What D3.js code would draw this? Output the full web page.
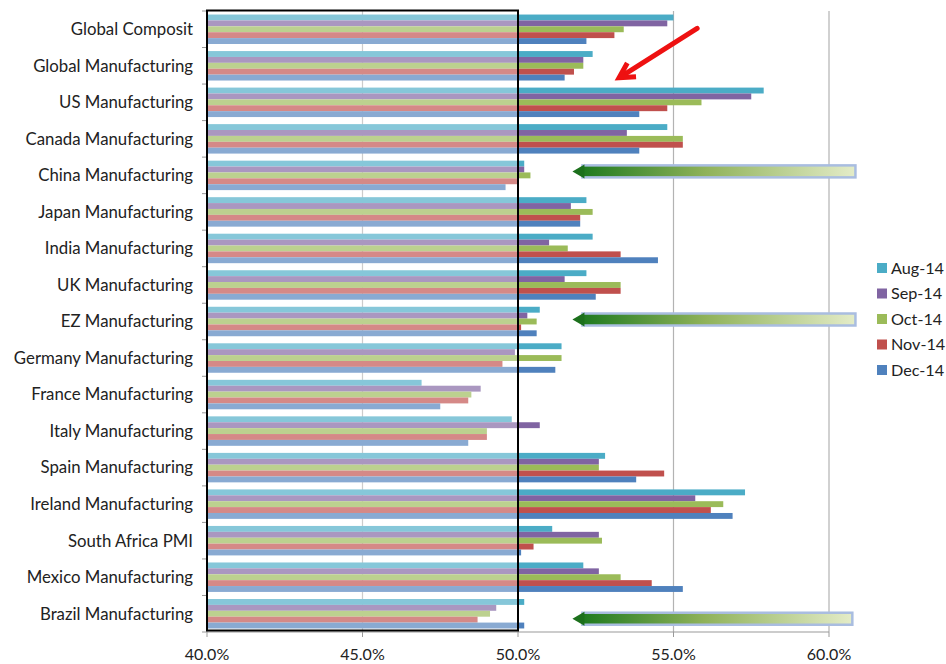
<!DOCTYPE html>
<html><head><meta charset="utf-8">
<script src="https://cdn.jsdelivr.net/npm/d3@7"></script>
<style>
html,body{margin:0;padding:0;background:#fff;}
svg{display:block;font-family:Lato,"Noto Sans",sans-serif;}
</style></head>
<body><svg id="c" width="946" height="664"></svg>
<script>
const categories = ["Global Composit","Global Manufacturing","US Manufacturing","Canada Manufacturing","China Manufacturing","Japan Manufacturing","India Manufacturing","UK Manufacturing","EZ Manufacturing","Germany Manufacturing","France Manufacturing","Italy Manufacturing","Spain Manufacturing","Ireland Manufacturing","South Africa PMI","Mexico Manufacturing ","Brazil Manufacturing"];
const seriesNames = ["Aug-14","Sep-14","Oct-14","Nov-14","Dec-14"];
const seriesColors = ["#4BACC6","#8064A2","#9BBB59","#C0504D","#4F81BD"];
const aug14 = [55.0,52.4,57.9,54.8,50.2,52.2,52.4,52.2,50.7,51.4,46.9,49.8,52.8,57.3,51.1,52.1,50.2];
const sep14 = [54.8,52.1,57.5,53.5,50.2,51.7,51.0,51.5,50.3,49.9,48.8,50.7,52.6,55.7,52.6,52.6,49.3];
const oct14 = [53.4,52.1,55.9,55.3,50.4,52.4,51.6,53.3,50.6,51.4,48.5,49.0,52.6,56.6,52.7,53.3,49.1];
const nov14 = [53.1,51.8,54.8,55.3,50.0,52.0,53.3,53.3,50.1,49.5,48.4,49.0,54.7,56.2,50.5,54.3,48.7];
const dec14 = [52.2,51.5,53.9,53.9,49.6,52.0,54.5,52.5,50.6,51.2,47.5,48.4,53.8,56.9,50.1,55.3,50.2];
const xTicks = [40,45,50,55,60];
const xTickLabels = ["40.0%","45.0%","50.0%","55.0%","60.0%"];
const highlightCats = ["China Manufacturing","EZ Manufacturing","Brazil Manufacturing"];

const series = [aug14,sep14,oct14,nov14,dec14];
const svg = d3.select("#c");
const x = d3.scaleLinear().domain([40,60]).range([207,829]);
const y0 = d3.scaleBand().domain(categories).range([11,632]);
const y1 = d3.scaleBand().domain(seriesNames).range([0,y0.bandwidth()]).paddingOuter(0.6);
const color = d3.scaleOrdinal().domain(seriesNames).range(seriesColors);

// gridlines
svg.append("g").selectAll("line").data(xTicks.slice(1)).join("line")
  .attr("x1",d=>x(d)).attr("x2",d=>x(d)).attr("y1",11).attr("y2",632)
  .attr("stroke","#b3b3b3").attr("stroke-width",1.2);

// bars
const rows = [];
categories.forEach((c,i)=>seriesNames.forEach((s,j)=>rows.push({c,s,v:series[j][i]})));
svg.append("g").selectAll("rect").data(rows).join("rect")
  .attr("x",x(40)).attr("y",d=>y0(d.c)+y1(d.s))
  .attr("width",d=>x(d.v)-x(40)).attr("height",y1.bandwidth())
  .attr("fill",d=>color(d.s));

// pale overlay inside box
svg.append("rect").attr("x",x(40)).attr("y",11).attr("width",x(50)-x(40)).attr("height",621)
  .attr("fill","#fff").attr("opacity",0.33);

// y axis
const yAxis = svg.append("g").attr("transform",`translate(${x(40)},0)`);
yAxis.append("line").attr("x1",0).attr("x2",0).attr("y1",11).attr("y2",632).attr("stroke","#999");
const bounds = categories.map(c=>y0(c)).concat([y0.range()[1]]);
yAxis.selectAll("line.t").data(bounds).join("line").attr("class","t")
  .attr("x1",-5).attr("x2",0).attr("y1",d=>d).attr("y2",d=>d).attr("stroke","#999");
yAxis.selectAll("text").data(categories).join("text")
  .attr("x",-14).attr("y",d=>y0(d)+y0.bandwidth()/2).attr("dy","0.35em")
  .attr("text-anchor","end").attr("font-size",16.8).attr("fill","#222").text(d=>d);

// x axis
const xAxis = svg.append("g").attr("transform","translate(0,632)");
xAxis.append("line").attr("x1",x(40)).attr("x2",x(60)).attr("stroke","#999");
xAxis.selectAll("line.t").data(xTicks).join("line").attr("class","t")
  .attr("x1",d=>x(d)).attr("x2",d=>x(d)).attr("y1",0).attr("y2",5).attr("stroke","#999");
xAxis.selectAll("text").data(xTicks).join("text")
  .attr("x",d=>x(d)).attr("y",22).attr("dy","0.35em").attr("text-anchor","middle")
  .attr("font-size",16).attr("fill","#222").text((d,i)=>xTickLabels[i]);

// black box
svg.append("rect").attr("x",x(40)).attr("y",10.5).attr("width",x(50)-x(40)).attr("height",620)
  .attr("fill","none").attr("stroke","#000").attr("stroke-width",2);

// legend
const lg = svg.append("g").attr("transform","translate(877,268)");
seriesNames.forEach((s,i)=>{
  const g = lg.append("g").attr("transform",`translate(0,${i*25.5})`);
  g.append("rect").attr("x",0).attr("y",-5).attr("width",10).attr("height",10).attr("fill",color(s));
  g.append("text").attr("x",14).attr("y",0).attr("dy","0.35em").attr("font-size",16.2).attr("fill","#222").text(s);
});

// green arrows
const defs = svg.append("defs");
const grad = defs.append("linearGradient").attr("id","gg").attr("x1","0%").attr("x2","100%");
grad.append("stop").attr("offset","0%").attr("stop-color","#1f7a1f");
grad.append("stop").attr("offset","45%").attr("stop-color","#8fb25a");
grad.append("stop").attr("offset","100%").attr("stop-color","#e4ecc8");
const arrowOffsets = {"China Manufacturing":-4,"EZ Manufacturing":-2,"Brazil Manufacturing":5};
highlightCats.forEach(c=>{
  const cy = y0(c)+y0.bandwidth()/2+arrowOffsets[c];
  const tip = x(51.75), right = c==="Brazil Manufacturing"? x(60.75) : x(60.85);
  const g = svg.append("g");
  g.append("rect").attr("x",tip+10).attr("y",cy-6).attr("width",right-tip-10).attr("height",12)
    .attr("fill","url(#gg)").attr("stroke","#a9bde0").attr("stroke-width",2.5);
  g.append("path").attr("d",`M${tip},${cy} L${tip+12},${cy-7} L${tip+12},${cy+7} Z`).attr("fill","#1c701c");
});

// red arrow
const rStart = [x(55.76), y0("Global Composit")+y0.bandwidth()/2-1];
const rEnd = [x(53.25), y0("Global Manufacturing")+y0.bandwidth()/2+12];
const ang = Math.atan2(rEnd[1]-rStart[1], rEnd[0]-rStart[0]);
const back = 17;
svg.append("line").attr("x1",rStart[0]).attr("y1",rStart[1])
  .attr("x2",rEnd[0]-Math.cos(ang)*6).attr("y2",rEnd[1]-Math.sin(ang)*6)
  .attr("stroke","#ee1111").attr("stroke-width",5).attr("stroke-linecap","round");
const p1 = [rEnd[0]-Math.cos(ang-0.5)*back, rEnd[1]-Math.sin(ang-0.5)*back];
const p2 = [rEnd[0]-Math.cos(ang+0.5)*back, rEnd[1]-Math.sin(ang+0.5)*back];
svg.append("path").attr("d",`M${p1[0]},${p1[1]} L${rEnd[0]},${rEnd[1]} L${p2[0]},${p2[1]}`)
  .attr("fill","none").attr("stroke","#ee1111").attr("stroke-width",5).attr("stroke-linejoin","miter");
</script></body></html>
